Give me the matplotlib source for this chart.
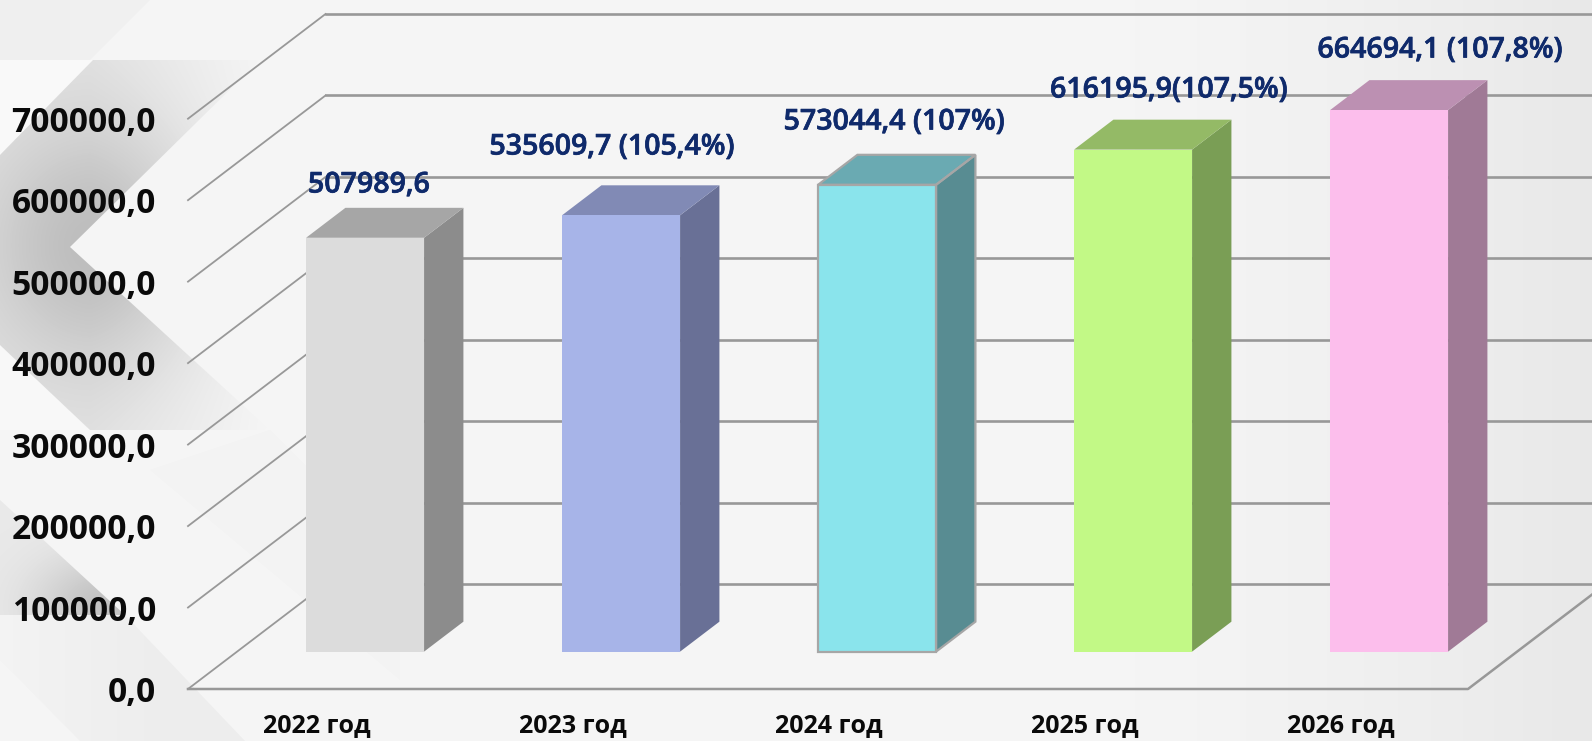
"""Draw the 2022-2026 pseudo-3D column chart and save it as out.png."""

import numpy as np
import matplotlib

matplotlib.use("Agg")
import matplotlib.pyplot as plt
import matplotlib.patheffects as pe
from matplotlib.patches import Polygon

WIDTH, HEIGHT = 1592, 741

YEARS = ["2022 год", "2023 год", "2024 год", "2025 год", "2026 год"]
VALUES = [507989.6, 535609.7, 573044.4, 616195.9, 664694.1]
BAR_LABELS = [
    "507989,6",
    "535609,7 (105,4%)",
    "573044,4 (107%)",
    "616195,9(107,5%)",
    "664694,1 (107,8%)",
]
Y_TICKS = [0, 100000, 200000, 300000, 400000, 500000, 600000, 700000]
Y_TICK_LABELS = [
    "0,0", "100000,0", "200000,0", "300000,0",
    "400000,0", "500000,0", "600000,0", "700000,0",
]

FRONT = ["#dcdcdc", "#a7b4e8", "#8ae4ec", "#c2f986", "#fcbeec"]
SIDE = ["#8c8c8c", "#697096", "#588c92", "#7a9e55", "#a07a96"]
TOP = ["#a6a6a6", "#818ab5", "#6aaab2", "#94ba66", "#bc90b2"]
EDGE = [None, None, "#a6a6a6", None, None]

# pixel layout of the front plane
PX_PER_CAT = 256.0
PX_PER_UNIT = 81.47 / 100000
X0_PX = 316.0
Y0_PX = 689.0
# depth of the chart box, in data units
DEPTH_X = 137.5 / PX_PER_CAT
DEPTH_Y = 104.7 / PX_PER_UNIT
BAR_D0, BAR_D1 = 0.357, 0.643
BAR_W = 118.0 / PX_PER_CAT
X_MIN, X_MAX = -0.5, 4.5

LABEL_POS = [(369, 185), (612, 147), (894, 122), (1169, 90), (1440, 50)]
NAVY = "#0f2a6b"
GRID = "#989898"
FONT = "Open Sans"


def gradient(ax, func, poly, gray):
    """Paint a gray shape whose opacity comes from func(x, y), clipped to poly."""
    yy, xx = np.mgrid[0:HEIGHT, 0:WIDTH]
    rgba = np.zeros((HEIGHT, WIDTH, 4))
    rgba[..., :3] = gray
    rgba[..., 3] = np.clip(func(xx, yy), 0, 1)
    im = ax.imshow(rgba, extent=(0, WIDTH, HEIGHT, 0), aspect="auto", zorder=1)
    patch = Polygon(poly, closed=True, transform=ax.transData, fc="none", ec="none")
    ax.add_patch(patch)
    im.set_clip_path(patch)


def draw_background(ax):
    yy, xx = np.mgrid[0:HEIGHT, 0:WIDTH]
    base = 0.962 - 0.05 * np.clip((xx - 1100) / 492, 0, 1) ** 1.4
    ax.imshow(np.dstack([base, base, base]), extent=(0, WIDTH, HEIGHT, 0), aspect="auto", zorder=0)

    # top left corner: slightly darker fade, pale triangle under it
    gradient(ax, lambda x, y: 0.035 * np.clip(1 - x / 420, 0, 1) + 0.01,
             [(0, 0), (150, 0), (90, 60), (0, 60)], 0.45)
    ax.fill([0, 93, 0], [60, 60, 155], color="#f9f9f9", lw=0, zorder=1)
    ax.fill([0, 90, 270, 0], [345, 430, 430, 430], color="#f8f8f8", lw=0, zorder=1)

    # big chevron around the y axis labels
    chevron = [(93, 60), (260, 60), (70, 247), (270, 430), (90, 430), (0, 345), (0, 155)]
    gradient(ax, lambda x, y: 0.30 * np.exp(-(((x - 95) / 115) ** 2 + ((y - 245) / 125) ** 2))
             + 0.13 * np.clip(1 - (x - 90) / 170, 0, 1), chevron, 0.45)

    # lower left wedge and the bands leading off it
    wedge = [(0, 500), (125, 615), (0, 615)]
    gradient(ax, lambda x, y: 0.30 * np.exp(-(((x - 105) / 70) ** 2 + ((y - 605) / 50) ** 2)) + 0.09,
             wedge, 0.45)
    band = [(0, 615), (125, 615), (245, 741), (80, 741), (0, 660)]
    gradient(ax, lambda x, y: 0.06 * np.clip((x + 40) / 200, 0, 1), band, 0.45)
    faint = [(270, 430), (400, 560), (400, 680), (150, 470)]
    gradient(ax, lambda x, y: 0.012 + 0 * x, faint, 0.45)


def main():
    plt.rcParams["font.family"] = [FONT, "DejaVu Sans"]
    fig = plt.figure(figsize=(WIDTH / 100, HEIGHT / 100), dpi=100)

    bg = fig.add_axes([0, 0, 1, 1], zorder=0)
    bg.axis("off")
    draw_background(bg)
    bg.set_xlim(0, WIDTH)
    bg.set_ylim(HEIGHT, 0)

    # data axes: x in category steps, y in value units, front plane of the box
    ax = fig.add_axes([0, 0, 1, 1], zorder=1)
    ax.patch.set_alpha(0)
    ax.set_xlim(-X0_PX / PX_PER_CAT, (WIDTH - X0_PX) / PX_PER_CAT)
    ax.set_ylim((Y0_PX - HEIGHT) / PX_PER_UNIT, Y0_PX / PX_PER_UNIT)
    ax.axis("off")

    for tick, label in zip(Y_TICKS, Y_TICK_LABELS):
        ax.plot([X_MIN, X_MIN + DEPTH_X], [tick, tick + DEPTH_Y], color=GRID, lw=1.3, zorder=2)
        ax.plot([X_MIN + DEPTH_X, X_MAX + DEPTH_X], [tick + DEPTH_Y] * 2, color=GRID, lw=1.9, zorder=2)
        ax.annotate(label, xy=(X_MIN, tick), xytext=(-32, -4), textcoords="offset pixels",
                    ha="right", va="center", fontsize=24.2, fontweight="bold", color="#0a0a0a", zorder=6)
    ax.plot([X_MIN, X_MAX, X_MAX + DEPTH_X], [0, 0, DEPTH_Y], color=GRID, lw=1.8, zorder=2)

    cats = np.arange(len(VALUES))
    shift_x = BAR_D0 * DEPTH_X
    base = BAR_D0 * DEPTH_Y
    d_x = (BAR_D1 - BAR_D0) * DEPTH_X
    d_y = (BAR_D1 - BAR_D0) * DEPTH_Y
    ax.bar(cats + shift_x, VALUES, width=BAR_W, bottom=base, color=FRONT, zorder=4, linewidth=0)

    for i, value in enumerate(VALUES):
        left = i + shift_x - BAR_W / 2
        right = i + shift_x + BAR_W / 2
        top = base + value
        side = [(right, base), (right + d_x, base + d_y), (right + d_x, top + d_y), (right, top)]
        cap = [(left, top), (right, top), (right + d_x, top + d_y), (left + d_x, top + d_y)]
        ax.add_patch(Polygon(side, fc=SIDE[i], ec="none", zorder=3.5))
        ax.add_patch(Polygon(cap, fc=TOP[i], ec="none", zorder=3.5))
        if EDGE[i]:
            front = [(left, base), (right, base), (right, top), (left, top)]
            for shape in (front, side, cap):
                ax.add_patch(Polygon(shape, fc="none", ec=EDGE[i], lw=1.6, zorder=4.5))

    for i, year in enumerate(YEARS):
        ax.annotate(year, xy=(i, 0), xytext=(1, -37), textcoords="offset pixels",
                    ha="center", va="center", fontsize=18, fontweight="bold", color="#0a0a0a", zorder=6)

    # labels sit over the gridlines
    for (px, py), text in zip(LABEL_POS, BAR_LABELS):
        ax.text((px - X0_PX) / PX_PER_CAT, (Y0_PX - py) / PX_PER_UNIT, text, ha="center", va="center",
                fontsize=20.6, fontweight="semibold", color=NAVY, zorder=8,
                path_effects=[pe.withStroke(linewidth=0.5, foreground=NAVY)])

    fig.savefig("out.png", dpi=100, facecolor="white")
    plt.close(fig)


if __name__ == "__main__":
    main()
